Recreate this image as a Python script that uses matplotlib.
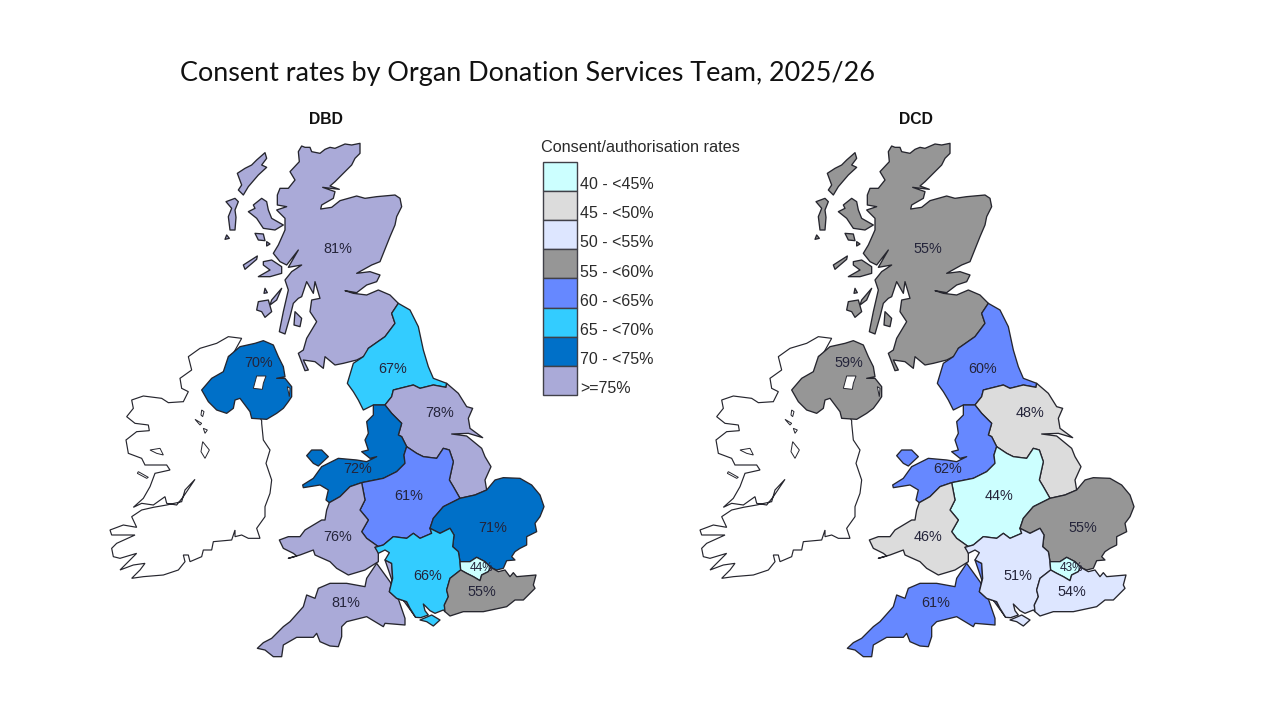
import numpy as np
import matplotlib
matplotlib.use("Agg")
import matplotlib.pyplot as plt
from matplotlib.patches import Polygon, Rectangle

TITLE = "Consent rates by Organ Donation Services Team, 2025/26"
PANELS = ["DBD", "DCD"]
LEGEND_TITLE = "Consent/authorisation rates"
BIN_LABELS = ["40 - <45%", "45 - <50%", "50 - <55%", "55 - <60%", "60 - <65%", "65 - <70%", "70 - <75%", ">=75%"]
BIN_EDGES = [40, 45, 50, 55, 60, 65, 70, 75]
BIN_COLORS = ["#CCFFFF", "#DCDCDC", "#DDE6FF", "#969696", "#6688FF", "#33CCFF", "#0070C8", "#AAAAD8"]

TEAMS = ["Scotland", "Northern", "Yorkshire", "NorthWest", "Midlands", "Eastern", "SouthWales", "SouthWest", "SouthCentral", "London", "SouthEast", "NorthernIreland"]
DBD_RATES = [81, 67, 78, 72, 61, 71, 76, 81, 66, 44, 55, 70]
DCD_RATES = [55, 60, 48, 62, 44, 55, 46, 61, 51, 43, 54, 59]

O1, O2, O3, O4, O5 = (100, 130), (220, 130), (100, 390), (290, 290), (250, 520)

def z(origin, pts):
    return [(origin[0] + x / 3, origin[1] + y / 3) for x, y in pts]

B_SCOT_NE = z(O2, [(535, 520), (515, 550), (525, 580), (495, 620), (445, 655)])
B_NE_YORK = z(O4, [(470, 280), (468, 292), (430, 285), (390, 295), (370, 285), (310, 300), (305, 320), (285, 345)])
B_YORK_NW = z(O4, [(285, 345), (305, 370), (335, 400), (325, 435), (335, 440), (350, 470)])
B_YORK_MID = z(O4, [(350, 470), (380, 490), (400, 500), (440, 505), (460, 475), (478, 480), (490, 515), (478, 570), (490, 590), (510, 625)])
B_MID_EAST = z(O4, [(510, 625), (460, 650), (430, 685), (420, 715)])
B_YORK_EAST = z(O4, [(510, 625), (555, 615), (590, 600)])
B_MID_SC = z(O5, [(540, 25), (545, 40), (510, 55), (490, 40), (470, 55), (430, 50), (400, 75), (375, 82)])
B_MID_WALES = z(O4, [(265, 770), (230, 745), (215, 725), (235, 690), (210, 660), (225, 630), (215, 578)])
B_MID_NW = z(O4, [(215, 578), (280, 565), (320, 545), (345, 520), (342, 495), (350, 470)])
B_WALES_NW = z(O4, [(215, 578), (180, 590), (150, 620), (118, 638)])
B_EAST_SC = z(O5, [(540, 25), (570, 40), (600, 25), (612, 45), (608, 80), (625, 95), (630, 125)])
B_LON_EAST = z(O5, [(630, 125), (660, 125), (680, 112), (705, 125), (722, 142)])
B_LON_SE = z(O5, [(632, 150), (650, 160), (670, 170), (690, 182), (695, 165), (715, 155), (722, 142)])
B_SC_SE = z(O5, [(632, 150), (600, 175), (590, 210), (595, 230), (583, 255), (585, 275)])
B_SC_SW = z(O5, [(497, 292), (480, 265), (470, 245), (440, 235), (418, 215), (428, 175), (425, 130), (405, 120)])

SCOTLAND = z(O2, [(245, 48), (255, 52), (270, 52), (275, 65), (300, 70), (315, 58), (330, 52), (345, 55), (375, 42), (395, 45), (420, 40), (420, 70), (405, 85), (395, 105), (375, 125), (360, 140), (345, 155), (330, 168), (358, 178), (308, 172), (345, 185), (340, 205), (305, 225), (302, 237), (335, 232), (360, 212), (385, 205), (410, 198), (435, 205), (470, 200), (525, 195), (540, 205), (545, 230), (530, 260), (525, 285), (510, 320), (500, 345), (490, 370), (480, 395), (455, 405), (410, 430), (450, 425), (480, 435), (470, 455), (440, 465), (410, 488), (375, 482), (400, 490), (440, 495), (475, 480), (510, 495)]) + B_SCOT_NE + z(O2, [(440, 675), (410, 690), (370, 700), (345, 705), (315, 680), (310, 715), (285, 695), (250, 690), (265, 720), (255, 722), (235, 670), (250, 660), (260, 625), (290, 575), (270, 545), (275, 510), (300, 505), (285, 455), (280, 490), (260, 455), (245, 500), (235, 505), (220, 520), (210, 560), (195, 612), (178, 605), (190, 545), (205, 480), (195, 450), (215, 425), (245, 405), (205, 412), (235, 360), (200, 405), (180, 395), (160, 370), (175, 345), (195, 300), (195, 265), (170, 240), (200, 230), (172, 225), (172, 195), (180, 175), (205, 175), (225, 150), (210, 125), (238, 95), (235, 65)])
SKYE = z(O2, [(125, 205), (140, 215), (145, 240), (155, 265), (190, 285), (165, 300), (130, 295), (110, 265), (85, 245), (105, 235), (100, 225)])
LEWIS = z(O2, [(135, 68), (140, 85), (125, 105), (140, 112), (115, 135), (85, 170), (70, 195), (55, 180), (65, 165), (52, 130), (75, 115), (95, 105), (110, 90)])
UIST = z(O2, [(45, 205), (55, 215), (45, 240), (48, 262), (45, 300), (30, 300), (25, 260), (35, 235), (18, 215)])
BARRA = z(O2, [(20, 315), (28, 325), (15, 328)])
RUM = z(O2, [(105, 310), (130, 312), (135, 332), (115, 330)])
CANNA = z(O2, [(140, 335), (150, 342), (140, 348)])
MULL = z(O2, [(130, 395), (155, 390), (185, 410), (185, 430), (150, 440), (115, 440), (150, 420), (130, 405)])
TIREE = z(O2, [(70, 405), (112, 378), (110, 388), (75, 418)])
JURA = z(O2, [(185, 475), (155, 510), (150, 525), (170, 510)])
ISLAY = z(O2, [(115, 515), (145, 510), (155, 545), (135, 562), (125, 545), (110, 540)])
ARRAN = z(O2, [(225, 545), (245, 565), (240, 590), (222, 585)])
COLONSAY = z(O2, [(135, 475), (142, 488), (132, 490)])

NORTHERN = B_SCOT_NE[:1] + z(O4, [(360, 60), (385, 110), (400, 180), (415, 230), (430, 265)]) + B_NE_YORK + z(O4, [(250, 345), (220, 360), (205, 330), (190, 305), (172, 280), (190, 220), (220, 200)]) + B_SCOT_NE[::-1]
YORKSHIRE = B_NE_YORK[::-1] + z(O4, [(505, 310), (530, 350), (548, 355), (535, 385), (540, 415), (578, 443), (535, 430), (485, 432), (530, 438), (575, 475), (585, 500), (603, 530), (585, 570)]) + B_YORK_EAST[::-1] + B_YORK_MID[::-1] + B_YORK_NW[::-1]
NORTHWEST = B_YORK_NW + B_MID_NW[::-1] + B_WALES_NW[1:] + z(O4, [(108, 630), (115, 600), (90, 585), (40, 593), (38, 585), (70, 565), (95, 530), (145, 505), (200, 510), (230, 515), (260, 500), (240, 505), (215, 485), (235, 480), (225, 450), (235, 430), (230, 395), (250, 375), (250, 345)])
ANGLESEY = z(O4, [(50, 497), (65, 480), (95, 480), (115, 500), (85, 528), (70, 520)])
MIDLANDS = B_YORK_MID + B_MID_EAST + B_MID_SC + B_MID_WALES + B_MID_NW
SOUTHWALES = B_WALES_NW + z(O4, [(110, 660), (105, 690)]) + z(O5, [(215, 0), (165, 30), (150, 50), (115, 50), (88, 60), (100, 85), (130, 100), (140, 108), (115, 115), (150, 105), (190, 90), (195, 105), (240, 125), (260, 145), (295, 165), (345, 150), (385, 125), (385, 95), (375, 82)]) + B_MID_WALES
SOUTHWEST = B_SC_SW[::-1] + z(O5, [(380, 130), (350, 175), (345, 200), (290, 190), (240, 190), (205, 205), (195, 235), (170, 225), (160, 260), (120, 305), (100, 320), (65, 355), (40, 368), (22, 385), (45, 390), (70, 410), (95, 410), (100, 375), (140, 352), (190, 352), (200, 340), (210, 365), (240, 378), (265, 380), (275, 350), (275, 320), (290, 305), (350, 290), (400, 320), (405, 310), (465, 315), (465, 295)])
SOUTHCENTRAL = B_MID_SC[::-1] + B_EAST_SC + B_SC_SE + z(O5, [(580, 270), (555, 280), (540, 272), (520, 252), (525, 272), (535, 285), (512, 293)]) + B_SC_SW + z(O5, [(418, 98), (405, 90), (385, 100)])
WIGHT = z(O5, [(510, 300), (545, 285), (570, 300), (550, 318), (530, 305)])
EASTERN = B_YORK_EAST[1:] + z(O4, [(615, 570), (640, 563), (690, 565), (725, 585), (750, 615), (762, 650), (750, 680), (735, 700)]) + z(O5, [(860, 35), (830, 50), (830, 75), (810, 85), (795, 95), (785, 110), (795, 120), (770, 122), (760, 145), (740, 150)]) + B_LON_EAST[::-1] + B_EAST_SC[::-1] + B_MID_EAST[::-1] + B_YORK_EAST[:1]
LONDON = B_LON_EAST + B_LON_SE[::-1]
SOUTHEAST = B_LON_SE + z(O5, [(745, 155), (765, 150), (780, 170), (790, 158), (800, 170), (858, 165), (850, 195), (855, 205), (820, 240), (795, 240), (770, 260), (700, 275), (640, 275), (600, 288)]) + B_SC_SE[::-1]
NIRELAND = z(O1, [(385, 680), (420, 650), (465, 640), (490, 632), (520, 645), (535, 680), (550, 710), (555, 740), (530, 745), (555, 745), (575, 770), (575, 800)]) + z(O3, [(565, 35), (550, 55), (530, 70), (500, 88), (455, 85), (450, 65), (435, 45), (420, 25), (405, 30), (400, 55), (380, 70), (350, 60), (325, 35), (305, 0)]) + z(O1, [(335, 745), (370, 725)])
LOUGH_NEAGH = z(O1, [(470, 738), (498, 738), (490, 760), (487, 778), (460, 775)])
STRANGFORD = z(O1, [(562, 770), (570, 775), (568, 800)])
IRELAND = z(O3, [(485, 92), (485, 100), (490, 150), (510, 180), (498, 220), (515, 270), (510, 310), (495, 350), (495, 380), (470, 415), (480, 445), (445, 445), (425, 435), (405, 440), (405, 420), (395, 450), (340, 455), (335, 480), (310, 480), (305, 500), (270, 515), (265, 495), (250, 495), (255, 515), (235, 540), (190, 555), (130, 560), (95, 565), (120, 540), (135, 520), (100, 525), (60, 540), (110, 490), (60, 505), (40, 500), (35, 475), (50, 460), (105, 435), (35, 435), (30, 420), (70, 405), (110, 412), (95, 380), (125, 360), (160, 352), (200, 345), (245, 335), (255, 300), (285, 268), (250, 320), (230, 345), (200, 340), (195, 320), (160, 345), (125, 340), (100, 352), (130, 325), (150, 290), (165, 250), (210, 240), (200, 225), (135, 225), (125, 205), (85, 190), (78, 150), (110, 125), (148, 122), (145, 105), (105, 100), (80, 80), (100, 55), (95, 30), (130, 18), (185, 25), (205, 38), (250, 35), (265, 5)]) + z(O1, [(245, 775), (240, 745), (275, 720), (265, 680), (300, 655), (350, 640), (385, 620), (425, 625), (400, 670), (385, 680)])
LOUGHS = [z(O3, [(305, 60), (312, 65), (308, 80), (303, 75)]), z(O3, [(285, 88), (305, 100), (300, 105)]), z(O3, [(310, 115), (322, 120), (315, 130)]), z(O3, [(308, 155), (328, 180), (315, 205), (303, 185)]), z(O3, [(150, 180), (180, 175), (190, 195), (170, 190)]), z(O3, [(115, 245), (145, 262), (140, 265), (112, 250)])]

TEAM_SHAPES = {"Scotland": [SCOTLAND, SKYE, LEWIS, UIST, BARRA, RUM, CANNA, MULL, TIREE, JURA, ISLAY, ARRAN, COLONSAY],
               "Northern": [NORTHERN], "Yorkshire": [YORKSHIRE], "NorthWest": [NORTHWEST, ANGLESEY],
               "Midlands": [MIDLANDS], "Eastern": [EASTERN], "SouthWales": [SOUTHWALES], "SouthWest": [SOUTHWEST],
               "SouthCentral": [SOUTHCENTRAL, WIGHT], "London": [LONDON], "SouthEast": [SOUTHEAST], "NorthernIreland": [NIRELAND]}
LABEL_XY = {"Scotland": (338, 249), "Northern": (393, 369), "Yorkshire": (440, 413), "NorthWest": (358, 469),
            "Midlands": (409, 496), "Eastern": (493, 528), "SouthWales": (338, 537), "SouthWest": (346, 603),
            "SouthCentral": (428, 576), "London": (481, 568), "SouthEast": (482, 592), "NorthernIreland": (259, 363)}

def colour(v):
    return BIN_COLORS[int(np.searchsorted(BIN_EDGES, v, side="right")) - 1]

W, H = 1280, 720
plt.rcParams["font.family"] = ["Liberation Sans", "DejaVu Sans"]
fig = plt.figure(figsize=(12.8, 7.2), dpi=100, facecolor="white")
MAP_X0, MAP_X1, MAP_Y0, MAP_Y1 = 100, 560, 110, 665
OFFSET = 590
EDGE = "#26262e"

for i, (name, rates) in enumerate(zip(PANELS, [DBD_RATES, DCD_RATES])):
    ax = fig.add_axes([(MAP_X0 + i * OFFSET) / W, 1 - MAP_Y1 / H, (MAP_X1 - MAP_X0) / W, (MAP_Y1 - MAP_Y0) / H])
    ax.set_xlim(MAP_X0, MAP_X1)
    ax.set_ylim(MAP_Y1, MAP_Y0)
    ax.axis("off")
    ax.add_patch(Polygon(IRELAND, closed=True, fc="white", ec=EDGE, lw=0.85, zorder=1))
    for lough in LOUGHS:
        ax.add_patch(Polygon(lough, closed=True, fc="white", ec=EDGE, lw=0.7, zorder=1))
    for team, rate in zip(TEAMS, rates):
        for shape in TEAM_SHAPES[team]:
            ax.add_patch(Polygon(shape, closed=True, fc=colour(rate), ec=EDGE, lw=0.95, joinstyle="round", zorder=2))
    for hole in (LOUGH_NEAGH, STRANGFORD):
        ax.add_patch(Polygon(hole, closed=True, fc="white", ec=EDGE, lw=0.7, zorder=3))
    for team, rate in zip(TEAMS, rates):
        x, y = LABEL_XY[team]
        ax.text(x, y, f"{rate}%", ha="center", va="center", fontsize=8.5 if team == "London" else 10.4, color="#24243a", zorder=4)
    ax.text(326, 120, name, ha="center", va="center", fontsize=11.3, fontweight="bold", color="#111111")

lax = fig.add_axes([0, 0, 1, 1], facecolor="none")
lax.set_xlim(0, W)
lax.set_ylim(H, 0)
lax.axis("off")
LEG_X, LEG_W, LEG_TOP, LEG_STEP = 543, 34, 161.5, 29.2
for j, (lab, col) in enumerate(zip(BIN_LABELS, BIN_COLORS)):
    y = LEG_TOP + j * LEG_STEP
    lax.add_patch(Rectangle((LEG_X, y), LEG_W, LEG_STEP, fc=col, ec="#404048", lw=1.0))
    lax.text(580, y + 23, lab, ha="left", va="center", fontsize=11.5, color="#2a2a2a")
lax.text(541, 147, LEGEND_TITLE, ha="left", va="center", fontsize=11.7, color="#2a2a2a")
lax.text(180, 73, TITLE, ha="left", va="center", fontsize=19.45, family="Lato", color="#111111")

fig.savefig("out.png", dpi=100)
